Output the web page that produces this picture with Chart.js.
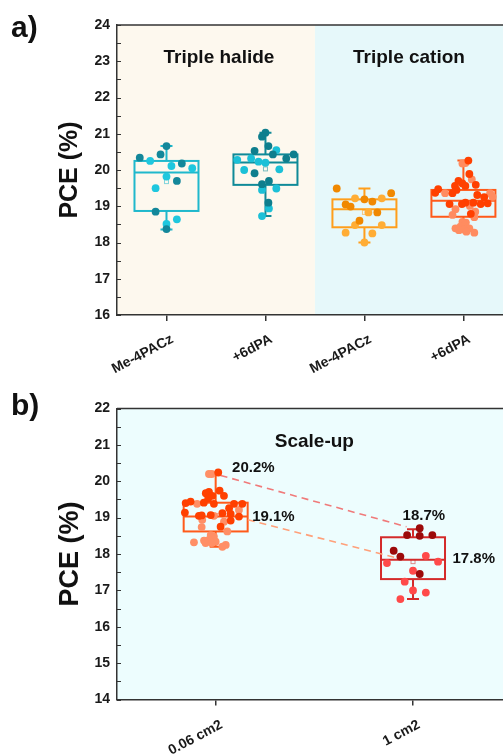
<!DOCTYPE html>
<html><head><meta charset="utf-8">
<script src="https://cdn.jsdelivr.net/npm/chart.js@4/dist/chart.umd.min.js"></script>
<style>
html,body{margin:0;padding:0;background:#fff;overflow:hidden}
#wrap{position:relative;width:503px;height:755px}
canvas{position:absolute;left:0}
#ca{top:0;width:503px;height:380px}
#cb{top:380px;width:503px;height:375px}
</style></head><body>
<div id="wrap"><canvas id="ca" width="503" height="380"></canvas><canvas id="cb" width="503" height="375"></canvas></div>
<script>
// ---------- Panel a data ----------
const catsA = ['Me-4PACz', '+6dPA', 'Me-4PACz', '+6dPA'];
const groupTitlesA = ['Triple halide', 'Triple cation'];
// box statistics
const a_q1   = [18.87, 19.59, 18.42, 18.71];
const a_med  = [19.93, 20.21, 18.92, 19.15];
const a_q3   = [20.25, 20.43, 19.19, 19.45];
const a_lo   = [18.36, 18.73, 18.00, 18.30];
const a_hi   = [20.66, 21.03, 19.49, 20.26];
const a_mean = [19.68, 20.03, 18.83, 19.10];
// individual PCE values (two shades per group) and their horizontal jitter
const a1Dark = [20.34, 20.43, 20.66, 20.18, 19.70, 18.85, 18.37];
const a1DarkJit = [-0.27, -0.06, 0, 0.155, 0.105, -0.11, 0];
const a1Light = [20.25, 20.11, 20.05, 19.82, 19.50, 18.64, 18.51];
const a1LightJit = [-0.165, 0.05, 0.26, 0, -0.11, 0.105, 0];
const a2Dark = [21.03, 20.92, 20.66, 20.53, 20.43, 20.43, 20.32, 19.91, 19.61, 19.70, 19.10];
const a2DarkJit = [0, -0.035, 0.03, -0.11, 0.075, 0.285, 0.21, -0.11, -0.035, 0.035, 0.03];
const a2Light = [20.55, 20.28, 20.32, 20.23, 20.20, 20.00, 20.02, 19.45, 19.49, 18.94, 18.73];
const a2LightJit = [0.11, -0.285, -0.145, -0.07, 0, -0.215, 0.14, -0.035, 0.11, 0.035, -0.035];
const a3Dark = [19.49, 19.36, 19.19, 19.13, 19.05, 18.99, 18.83, 18.60];
const a3DarkJit = [-0.28, 0.27, 0, 0.08, -0.19, -0.14, 0.13, -0.05];
const a3Light = [19.22, 19.22, 18.83, 18.48, 18.48, 18.27, 18.25, 18.00];
const a3LightJit = [-0.095, 0.175, 0.04, -0.095, 0.175, -0.19, 0.08, 0];
const a4Dark = [20.26, 19.89, 19.70, 19.63, 19.56, 19.59, 19.56, 19.47, 19.37, 19.36, 19.45, 19.31, 19.25, 19.08, 19.06, 19.10, 19.10, 19.06, 19.06, 18.79];
const a4DarkJit = [0.05, 0.06, -0.05, -0.01, 0.02, 0.125, -0.085, -0.255, -0.285, -0.11, -0.07, 0.14, 0.21, 0.245, 0.175, 0.10, 0.02, -0.015, -0.14, 0.075];
const a4Light = [20.18, 20.19, 19.74, 19.36, 19.26, 19.36, 19.01, 18.92, 18.85, 18.76, 18.70, 18.57, 18.55, 18.44, 18.39, 18.36, 18.39, 18.34, 18.27, 18.30];
const a4LightJit = [-0.01, 0.02, 0.085, -0.185, 0.295, 0.27, 0.065, -0.08, 0.12, -0.11, 0.11, -0.01, 0.025, -0.03, -0.08, 0.005, 0.06, -0.045, 0.11, 0.03];

// ---------- Panel b data ----------
const catsB = ['0.06 cm2', '1 cm2'];
const titleB = 'Scale-up';
const b_q1   = [18.62, 17.31];
const b_med  = [19.03, 17.84];
const b_q3   = [19.41, 18.46];
const b_lo   = [18.20, 16.76];
const b_hi   = [20.24, 18.68];
const b_mean = [19.06, 17.79];
const b1Dark = [20.24, 19.74, 19.71, 19.67, 19.60, 19.60, 19.52, 19.44, 19.40, 19.41, 19.38, 19.38, 19.38, 19.26, 19.14, 19.05, 19.06, 19.07, 19.12, 19.10, 19.03, 18.92, 18.75];
const b1DarkJit = [0.013, 0.02, -0.034, -0.05, -0.017, 0.042, -0.038, -0.127, -0.152, -0.06, -0.009, 0.093, 0.135, 0.068, -0.156, -0.085, -0.071, -0.025, 0.034, 0.076, 0.118, 0.076, 0.025];
const b1Light = [20.20, 20.20, 19.38, 19.21, 19.05, 18.94, 18.89, 18.74, 18.62, 18.52, 18.48, 18.39, 18.37, 18.34, 18.25, 18.20, 18.30, 18.30, 18.32];
const b1LightJit = [-0.02, -0.034, -0.094, 0.118, -0.009, -0.068, 0.042, -0.071, 0.059, -0.025, -0.009, -0.034, -0.059, 0, 0.051, 0.034, -0.051, -0.02, -0.11];
const b2Dark = [18.71, 18.52, 18.50, 18.52, 18.09, 17.93, 17.45];
const b2DarkJit = [0.034, -0.03, 0.034, 0.098, -0.098, -0.064, 0.034];
const b2Light = [17.95, 17.75, 17.79, 17.54, 17.24, 17.00, 16.94, 16.76];
const b2LightJit = [0.065, -0.132, 0.127, 0, -0.042, 0, 0.065, -0.064];
// dashed guide lines (value pairs between the two sizes)
const guideUpper = [[1.025, 20.16], [1.967, 18.75]];
const guideLower = [[1.163, 18.94], [1.95, 17.85]];
const labelValues = [20.2, 19.1, 18.7, 17.8];

// ---------- helpers ----------
Chart.defaults.font.family = "'Liberation Sans', Arial, sans-serif";
Chart.defaults.color = '#1a1a1a';

function pts(pos, vals, jit) { return vals.map((v, i) => ({x: pos + jit[i], y: v})); }
function scat(pos, vals, jit, color) {
  return {type: 'scatter', data: pts(pos, vals, jit), backgroundColor: color, borderWidth: 0,
          pointRadius: 3.9, pointHoverRadius: 3.9, order: 1};
}
function guide(p, color) {
  return {type: 'line', data: p.map(q => ({x: q[0], y: q[1]})), borderColor: color, borderWidth: 1.6,
          borderDash: [7, 5], pointRadius: 0, fill: false, showLine: true, order: 10};
}

const deco = {
  id: 'deco',
  beforeDraw(chart, args, o) {
    const {ctx, chartArea: a, scales: {x}} = chart;
    ctx.save();
    o.bands.forEach(b => {
      const x0 = Math.max(a.left, x.getPixelForValue(b.from));
      const x1 = Math.min(chart.width, x.getPixelForValue(b.to));
      ctx.fillStyle = b.color;
      ctx.fillRect(x0, a.top, x1 - x0, a.bottom - a.top);
    });
    ctx.restore();
  },
  beforeDatasetsDraw(chart, args, o) {
    const {ctx, scales: {x, y}} = chart;
    const s = o.stats;
    ctx.save();
    s.pos.forEach((p, i) => {
      const cx = x.getPixelForValue(p);
      const hw = o.boxWidth / 2, cw = 6;
      const Y = v => y.getPixelForValue(v);
      ctx.strokeStyle = o.colors[i];
      ctx.lineWidth = 2;
      ctx.strokeRect(cx - hw, Y(s.q3[i]), 2 * hw, Y(s.q1[i]) - Y(s.q3[i]));
      ctx.beginPath();
      ctx.moveTo(cx - hw, Y(s.med[i])); ctx.lineTo(cx + hw, Y(s.med[i]));
      ctx.moveTo(cx, Y(s.q3[i])); ctx.lineTo(cx, Y(s.hi[i]));
      ctx.moveTo(cx, Y(s.q1[i])); ctx.lineTo(cx, Y(s.lo[i]));
      ctx.moveTo(cx - cw, Y(s.hi[i])); ctx.lineTo(cx + cw, Y(s.hi[i]));
      ctx.moveTo(cx - cw, Y(s.lo[i])); ctx.lineTo(cx + cw, Y(s.lo[i]));
      ctx.stroke();
      ctx.lineWidth = 1;
      ctx.globalAlpha = 0.55;
      ctx.strokeRect(cx - 2, Y(s.mean[i]) - 2, 4, 4);
      ctx.globalAlpha = 1;
    });
    ctx.restore();
  },
  afterDraw(chart, args, o) {
    const {ctx, chartArea: a, scales: {x, y}} = chart;
    ctx.save();
    // top frame line
    ctx.strokeStyle = '#333'; ctx.lineWidth = 1.5;
    ctx.beginPath(); ctx.moveTo(a.left, a.top); ctx.lineTo(chart.width, a.top); ctx.stroke();
    // inward major/minor ticks on y axis
    ctx.lineWidth = 1;
    for (let v = y.min; v <= y.max + 1e-9; v += 0.5) {
      const py = Math.round(y.getPixelForValue(v)) + 0.5;
      ctx.beginPath(); ctx.moveTo(a.left, py); ctx.lineTo(a.left + 4, py); ctx.stroke();
    }
    // texts
    ctx.fillStyle = '#111';
    ctx.textBaseline = 'middle';
    o.texts.forEach(t => {
      ctx.font = `bold ${t.size}px 'Liberation Sans', Arial, sans-serif`;
      ctx.textAlign = t.align || 'center';
      ctx.fillText(t.text, x.getPixelForValue(t.x), y.getPixelForValue(t.y));
    });
    // panel letter
    ctx.font = "bold 30px 'Liberation Sans', Arial, sans-serif";
    ctx.textAlign = 'left'; ctx.textBaseline = 'alphabetic';
    ctx.fillText(o.letter, 11, o.letterY);
    ctx.restore();
  }
};

function baseOptions(cats, ymin, ymax, xmin, xmax, xh, padTop, ytitle, titlePad, labPad) {
  return {
    responsive: false, animation: false, devicePixelRatio: 1,
    layout: {autoPadding: false, padding: {left: 50, top: padTop, right: 0, bottom: 0}},
    plugins: {legend: {display: false}, tooltip: {enabled: false}},
    scales: {
      x: {
        type: 'linear', min: xmin, max: xmax,
        afterBuildTicks: s => { s.ticks = cats.map((c, i) => ({value: i + 1})); },
        afterFit: s => { s.height = xh; s.paddingLeft = 0; s.paddingRight = 0; },
        ticks: {autoSkip: false, minRotation: 28, maxRotation: 28, padding: labPad, labelOffset: 6,
                font: {size: 14, weight: 'bold'}, color: '#1a1a1a',
                callback: v => cats[Math.round(v) - 1]},
        grid: {display: true, drawOnChartArea: false, drawTicks: true, tickLength: 6, color: '#333', lineWidth: 1.5},
        border: {display: true, color: '#333', width: 1.5}
      },
      y: {
        min: ymin, max: ymax,
        afterFit: s => { s.width = 67; s.paddingTop = 0; s.paddingBottom = 0; },
        ticks: {stepSize: 1, padding: 7, font: {size: 14, weight: 'bold'}, color: '#1a1a1a'},
        grid: {display: true, drawOnChartArea: false, drawTicks: false},
        border: {display: true, color: '#333', width: 1.5},
        title: {display: true, text: 'PCE (%)', font: {size: ytitle, weight: 'bold'}, color: '#111',
                padding: {top: titlePad, bottom: 0}}
      }
    }
  };
}

// ---------- Chart a ----------
const optA = baseOptions(catsA, 16, 24, 0.5, 4.4, 65, 25, 25, 5, 10);
optA.plugins.deco = {
  bands: [{from: 0.5, to: 2.5, color: '#fdf8ee'}, {from: 2.5, to: 4.5, color: '#e6f8fa'}],
  stats: {pos: [1, 2, 3, 4], q1: a_q1, med: a_med, q3: a_q3, lo: a_lo, hi: a_hi, mean: a_mean},
  colors: ['#1fb8cc', '#0f8a98', '#ff9e1b', '#ff5a1a'],
  boxWidth: 64,
  texts: [
    {text: groupTitlesA[0], x: 1.53, y: 23.1, size: 19},
    {text: groupTitlesA[1], x: 3.45, y: 23.1, size: 19}
  ],
  letter: 'a)', letterY: 37
};
new Chart(document.getElementById('ca'), {
  type: 'scatter',
  data: {datasets: [
    scat(1, a1Dark, a1DarkJit, '#13879a'), scat(1, a1Light, a1LightJit, '#1fc7de'),
    scat(2, a2Dark, a2DarkJit, '#0e7e8d'), scat(2, a2Light, a2LightJit, '#1bc0d7'),
    scat(3, a3Dark, a3DarkJit, '#f08800'), scat(3, a3Light, a3LightJit, '#ffad35'),
    scat(4, a4Dark, a4DarkJit, '#ff4000'), scat(4, a4Light, a4LightJit, '#ff8c60')
  ]},
  options: optA,
  plugins: [deco]
});

// ---------- Chart b ----------
const optB = baseOptions(catsB, 14, 22, 0.5, 2.456, 55.5, 28.5, 27, 4, 11);
optB.plugins.deco = {
  bands: [{from: 0.5, to: 2.5, color: '#edfdfe'}],
  stats: {pos: [1, 2], q1: b_q1, med: b_med, q3: b_q3, lo: b_lo, hi: b_hi, mean: b_mean},
  colors: ['#ff5a1a', '#d42a2a'],
  boxWidth: 64,
  texts: [
    {text: titleB, x: 1.5, y: 21.09, size: 19},
    {text: labelValues[0].toFixed(1) + '%', x: 1.083, y: 20.36, size: 15, align: 'left'},
    {text: labelValues[1].toFixed(1) + '%', x: 1.185, y: 19.03, size: 15, align: 'left'},
    {text: labelValues[2].toFixed(1) + '%', x: 1.947, y: 19.05, size: 15, align: 'left'},
    {text: labelValues[3].toFixed(1) + '%', x: 2.20, y: 17.86, size: 15, align: 'left'}
  ],
  letter: 'b)', letterY: 35
};
new Chart(document.getElementById('cb'), {
  type: 'scatter',
  data: {datasets: [
    scat(1, b1Dark, b1DarkJit, '#ff4000'), scat(1, b1Light, b1LightJit, '#ff8f66'),
    scat(2, b2Dark, b2DarkJit, '#9c0a0a'), scat(2, b2Light, b2LightJit, '#ff4a4a'),
    guide(guideUpper, '#f07a7a'), guide(guideLower, '#ffa07a')
  ]},
  options: optB,
  plugins: [deco]
});
</script>
</body></html>
